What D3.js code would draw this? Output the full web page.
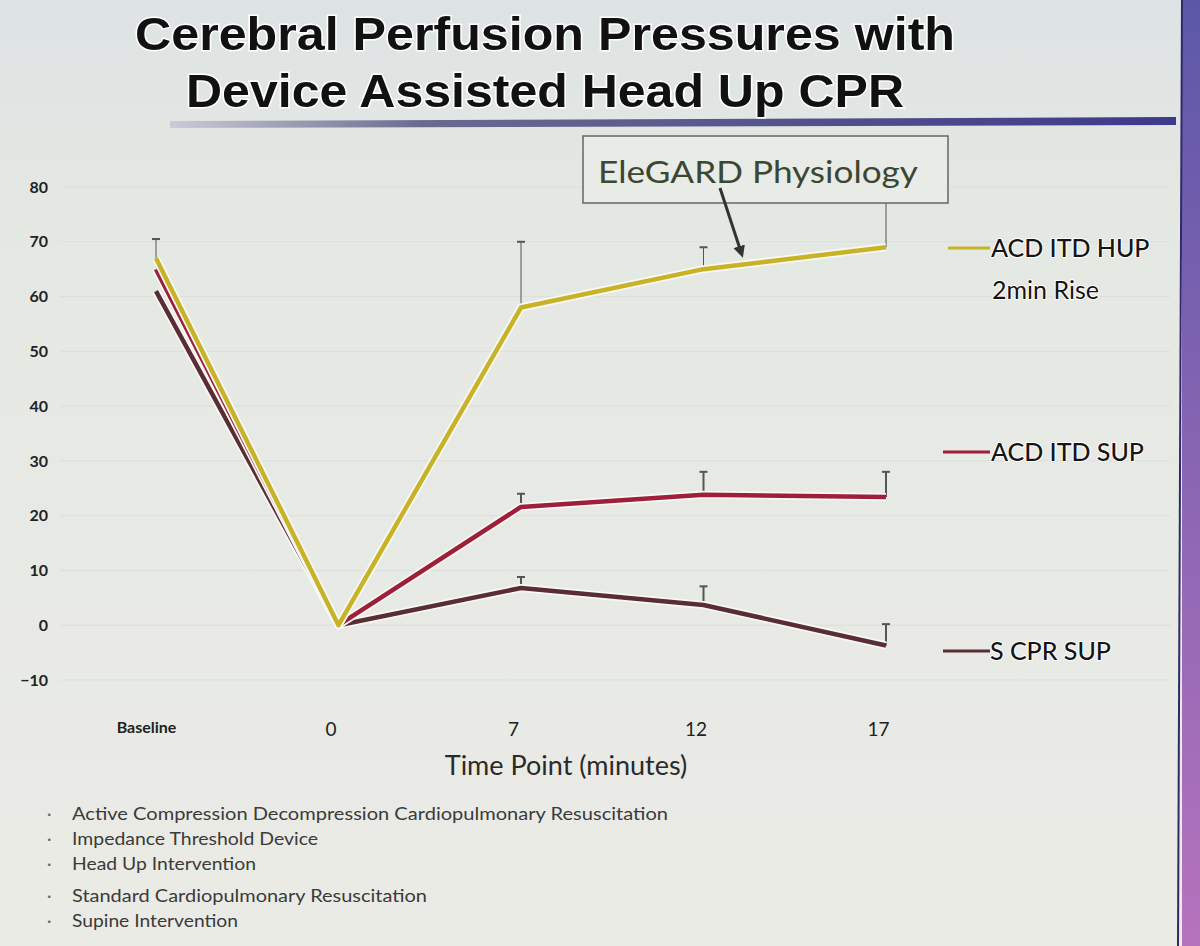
<!DOCTYPE html>
<html><head><meta charset="utf-8">
<script src="https://cdn.jsdelivr.net/npm/d3@7"></script>
<style>html,body{margin:0;padding:0;background:#e5e8e2;}svg{display:block;}</style>
</head><body>
<script>
const categories = ["Baseline", "0", "7", "12", "17"];
const yTicks = [80, 70, 60, 50, 40, 30, 20, 10, 0, -10];
const hupValues = [67, 0, 58, 65, 69];
const hupErrTop = [70.5, null, 70, 69, 78];
const supValues = [65, 0, 21.6, 23.8, 23.4];
const supErrTop = [null, null, 24, 28, 28];
const scprValues = [61, 0, 6.8, 3.7, -3.7];
const scprErrTop = [null, null, 8.8, 7.1, 0.2];
const seriesNames = ["ACD ITD HUP", "ACD ITD SUP", "S CPR SUP"];
const titleLines = ["Cerebral Perfusion Pressures with", "Device Assisted Head Up CPR"];
const footnotes = ["Active Compression Decompression Cardiopulmonary Resuscitation",
  "Impedance Threshold Device", "Head Up Intervention",
  "Standard Cardiopulmonary Resuscitation", "Supine Intervention"];

const W = 1200, H = 946;
const svg = d3.select("body").append("svg").attr("width", W).attr("height", H);
const defs = svg.append("defs");
const bg = defs.append("linearGradient").attr("id","bg").attr("x1",0).attr("y1",0).attr("x2",0).attr("y2",1);
bg.append("stop").attr("offset","0").attr("stop-color","#dde2e4");
bg.append("stop").attr("offset","0.2").attr("stop-color","#e4e8e3");
bg.append("stop").attr("offset","1").attr("stop-color","#ebebe6");
const side = defs.append("linearGradient").attr("id","side").attr("x1",0).attr("y1",0).attr("x2",0).attr("y2",1);
side.append("stop").attr("offset","0").attr("stop-color","#5c58a8");
side.append("stop").attr("offset","1").attr("stop-color","#b673bd");
const bar = defs.append("linearGradient").attr("id","bar").attr("x1",0).attr("y1",0).attr("x2",1).attr("y2",0);
bar.append("stop").attr("offset","0").attr("stop-color","#c9ccd6");
bar.append("stop").attr("offset","0.25").attr("stop-color","#6a6a90");
bar.append("stop").attr("offset","1").attr("stop-color","#3c3a8a");

svg.append("rect").attr("width",W).attr("height",H).attr("fill","url(#bg)");
svg.append("rect").attr("x",1182).attr("y",0).attr("width",18).attr("height",H).attr("fill","url(#side)");
svg.append("line").attr("x1",1182).attr("x2",1178).attr("y1",0).attr("y2",H).attr("stroke","#2e2a6a").attr("stroke-width",2);
svg.append("path").attr("d","M170,121 L1176,117 L1176,125 L170,128 Z").attr("fill","url(#bar)");

// title
const title = svg.append("g");
titleLines.forEach((t,i)=>{
  title.append("text").attr("x",545).attr("y",50+i*57).attr("text-anchor","middle")
    .attr("font-family","Liberation Sans, Arial, sans-serif").attr("font-weight","bold")
    .attr("font-size",47).attr("fill","#111").attr("stroke","#fff").attr("stroke-width",3)
    .attr("paint-order","stroke").attr("textLength", i===0?820:718).attr("lengthAdjust","spacingAndGlyphs").text(t);
});

const x = d3.scalePoint().domain(categories).range([156, 886]);
const y = d3.scaleLinear().domain([-10, 80]).range([680, 187]);

svg.append("g").selectAll("line").data(yTicks).join("line")
  .attr("x1",60).attr("x2",1170).attr("y1",d=>y(d)).attr("y2",d=>y(d))
  .attr("stroke","#dcdfd9").attr("stroke-width",1);

const yAxis = svg.append("g").attr("transform","translate(48,0)")
  .call(d3.axisLeft(y).tickValues(yTicks).tickSize(0).tickPadding(0).tickFormat(d3.format("d")));
yAxis.select(".domain").remove();
yAxis.selectAll("text").attr("font-family","Lato, sans-serif").attr("font-weight","bold")
  .attr("font-size",16).attr("fill","#222").attr("dy","0.32em");

const xAxis = svg.append("g").attr("transform","translate(0,722)")
  .call(d3.axisBottom(x).tickSize(0).tickPadding(0));
xAxis.select(".domain").remove();
xAxis.selectAll("text").attr("font-family","Lato, sans-serif")
  .attr("font-size",d=>d==="Baseline"?16:19).attr("font-weight",d=>d==="Baseline"?"bold":"normal")
  .attr("fill","#222").attr("dx",d=>d==="Baseline"?-10:-8);
svg.append("text").attr("x",566).attr("y",775).attr("text-anchor","middle")
  .attr("font-family","Lato, sans-serif").attr("font-size",27).attr("fill","#2a2a2a").text("Time Point (minutes)");

const series = [
  {name:seriesNames[0], values:hupValues, err:hupErrTop, color:"#c8b228"},
  {name:seriesNames[1], values:supValues, err:supErrTop, color:"#9e1f3a"},
  {name:seriesNames[2], values:scprValues, err:scprErrTop, color:"#5a2c34"}
];
const line = d3.line().x((d,i)=>x(categories[i])).y(d=>y(d));

series.forEach(s=>{
  const g = svg.append("g");
  s.values.forEach((v,i)=>{
    const e = s.err[i]; if (e===null) return;
    const cx = x(categories[i]);
    g.append("line").attr("x1",cx).attr("x2",cx).attr("y1",y(v)).attr("y2",y(e))
      .attr("stroke","#555").attr("stroke-width",s===series[0]?1:2);
    g.append("line").attr("x1",cx-4).attr("x2",cx+4).attr("y1",y(e)).attr("y2",y(e))
      .attr("stroke","#555").attr("stroke-width",2);
  });
});
[series[2], series[1], series[0]].forEach(s=>{
  svg.append("path").datum(s.values).attr("d",line).attr("fill","none")
    .attr("stroke","#f8f8f4").attr("stroke-width",8).attr("stroke-linejoin","round");
  svg.append("path").datum(s.values).attr("d",line).attr("fill","none")
    .attr("stroke",s.color).attr("stroke-width",4.5).attr("stroke-linejoin","round");
});

const legY = [248, 452, 651];
series.forEach((s,i)=>{
  svg.append("line").attr("x1",i===0?948:943).attr("x2",990).attr("y1",legY[i]).attr("y2",legY[i])
    .attr("stroke",s.color).attr("stroke-width",3);
  svg.append("text").attr("x",i===2?990:991).attr("y",legY[i]+9).attr("font-family","Lato, sans-serif")
    .attr("font-size",25).attr("font-weight",500).attr("fill","#151515").attr("stroke","#fff").attr("stroke-width",2)
    .attr("paint-order","stroke").text(s.name);
});
svg.append("text").attr("x",992).attr("y",299).attr("font-family","Lato, sans-serif")
  .attr("font-size",25).attr("fill","#151515").attr("stroke","#fff").attr("stroke-width",2)
  .attr("paint-order","stroke").text("2min Rise");

svg.append("rect").attr("x",583).attr("y",136).attr("width",365).attr("height",67)
  .attr("fill","#e8ebe6").attr("stroke","#666").attr("stroke-width",1.5);
svg.append("text").attr("x",598).attr("y",183).attr("font-family","Lato, sans-serif")
  .attr("font-size",31).attr("fill","#3b4733").attr("textLength",320).attr("lengthAdjust","spacingAndGlyphs")
  .text("EleGARD Physiology");
defs.append("marker").attr("id","arr").attr("viewBox","0 0 10 10").attr("refX",5).attr("refY",5)
  .attr("markerWidth",4).attr("markerHeight",4).attr("orient","auto")
  .append("path").attr("d","M0,0 L10,5 L0,10 Z").attr("fill","#333");
svg.append("line").attr("x1",720).attr("y1",188).attr("x2",741).attr("y2",252)
  .attr("stroke","#333").attr("stroke-width",3).attr("marker-end","url(#arr)");

const fy = [820, 845, 870, 902, 927];
const fw = [596, 246, 184, 355, 166];
footnotes.forEach((t,i)=>{
  svg.append("text").attr("x",47).attr("y",fy[i]).attr("font-family","Lato, sans-serif")
    .attr("font-size",17).attr("fill","#666").text("·");
  svg.append("text").attr("x",72).attr("y",fy[i]).attr("font-family","Lato, sans-serif")
    .attr("font-size",17).attr("fill","#3a3a3a").attr("textLength",fw[i]).attr("lengthAdjust","spacingAndGlyphs").text(t);
});
</script>
</body></html>
